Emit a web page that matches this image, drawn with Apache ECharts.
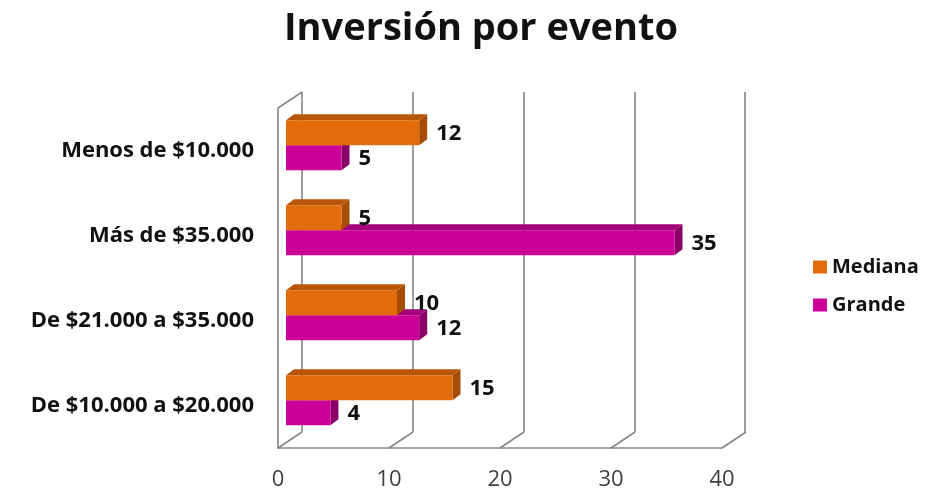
<!DOCTYPE html>
<html><head><meta charset="utf-8">
<script src="https://cdn.jsdelivr.net/npm/echarts@6/dist/echarts.min.js"></script>
<style>html,body{margin:0;padding:0;background:#fff}#c{width:932px;height:493px}</style>
</head><body><div id="c"></div>
<script>
const categories = ['De $10.000 a $20.000', 'De $21.000 a $35.000', 'Más de $35.000', 'Menos de $10.000'];
const mediana = [15, 10, 5, 12];
const grande = [4, 12, 35, 5];
const xTicks = [0, 10, 20, 30, 40];
const seriesNames = ['Mediana', 'Grande'];

const FONT = 'Open Sans';
const DX = 24, DY = 16;          // full depth of the 3D box
const BD = 8, BDY = 6;           // bar depth
const BAR_H = 25;
const GRID_COLOR = '#868686';
const colors = {
  Mediana: { front: '#E36C0A', top: '#B8560A', side: '#A64C07' },
  Grande: { front: '#CC0099', top: '#A3007A', side: '#8A0067' }
};

function barRender(name, upper) {
  return function (params, api) {
    const v = api.value(0), ci = api.value(1);
    const p0 = api.coord([0, ci]);
    const p1 = api.coord([v, ci]);
    const cy = p0[1];
    const y0 = upper ? cy - BAR_H : cy;
    const y1 = upper ? cy : cy + BAR_H;
    const x0 = p0[0], x1 = p1[0];
    const c = colors[name];
    return {
      type: 'group',
      children: [
        { type: 'polygon', shape: { points: [[x0, y0], [x0 + BD, y0 - BDY], [x1 + BD, y0 - BDY], [x1, y0]] }, style: { fill: c.top } },
        { type: 'polygon', shape: { points: [[x1, y0], [x1 + BD, y0 - BDY], [x1 + BD, y1 - BDY], [x1, y1]] }, style: { fill: c.side } },
        { type: 'rect', shape: { x: x0, y: y0, width: x1 - x0, height: y1 - y0 }, style: { fill: api.visual('color') } },
        { type: 'text', style: { text: String(v), x: x1 + BD + 9, y: (y0 + y1) / 2 + 1, verticalAlign: 'middle', align: 'left', font: 'bold 22px "' + FONT + '"', fill: '#111' } }
      ]
    };
  };
}

function floorRender(params, api) {
  const v = api.value(0);
  const cs = params.coordSys;
  const x = api.coord([v, 0])[0];
  const by = cs.y + cs.height;
  const children = [
    { type: 'line', shape: { x1: x, y1: by, x2: x + DX, y2: by - DY }, style: { stroke: GRID_COLOR, lineWidth: 1.6 } }
  ];
  if (v === 0) {
    children.push({ type: 'line', shape: { x1: cs.x, y1: cs.y, x2: cs.x + DX, y2: cs.y - DY }, style: { stroke: GRID_COLOR, lineWidth: 1.6 } });
  }
  return { type: 'group', children };
}

const chart = echarts.init(document.getElementById('c'));
chart.setOption({
  animation: false,
  textStyle: { fontFamily: FONT },
  title: {
    text: 'Inversión por evento', left: 476, top: 5, textAlign: 'center',
    textStyle: { fontFamily: FONT, fontSize: 38, fontWeight: 'bold', color: '#111' }
  },
  legend: {
    orient: 'vertical', left: 808, top: 252, icon: 'rect', itemWidth: 14, itemHeight: 13, itemGap: 18,
    data: seriesNames,
    textStyle: { fontFamily: FONT, fontSize: 20, fontWeight: 'bold', color: '#111' }
  },
  grid: [
    { left: 302, top: 92, width: 443, height: 340 },   // back wall
    { left: 278, top: 108, width: 444, height: 340 },  // front plane
    { left: 286, top: 102.7, width: 444, height: 340 } // bar plane
  ],
  xAxis: [
    { gridIndex: 0, type: 'value', min: 0, max: 40, interval: 10, axisLabel: { show: false }, axisLine: { show: false }, axisTick: { show: false },
      splitLine: { show: true, lineStyle: { color: GRID_COLOR, width: 1.6 } } },
    { gridIndex: 1, type: 'value', min: 0, max: 40, interval: 10, axisTick: { show: false }, splitLine: { show: false },
      axisLine: { show: true, lineStyle: { color: GRID_COLOR, width: 1.6 } },
      axisLabel: { show: true, margin: 21, fontSize: 22, color: '#404040', fontFamily: FONT } },
    { gridIndex: 2, type: 'value', min: 0, max: 40, interval: 10, show: false }
  ],
  yAxis: [
    { gridIndex: 0, type: 'category', data: categories, show: false },
    { gridIndex: 1, type: 'category', data: categories, axisTick: { show: false },
      axisLine: { show: true, lineStyle: { color: GRID_COLOR, width: 1.6 } },
      axisLabel: { margin: 24, fontSize: 22, fontWeight: 'bold', color: '#111', fontFamily: FONT } },
    { gridIndex: 2, type: 'category', data: categories, show: false }
  ],
  series: [
    { name: 'floor', type: 'custom', xAxisIndex: 1, yAxisIndex: 1, data: xTicks.map(v => [v, 0]), renderItem: floorRender, silent: true, z: 1 },
    { name: 'Mediana', type: 'custom', xAxisIndex: 2, yAxisIndex: 2, itemStyle: { color: colors.Mediana.front }, z: 4,
      encode: { x: 0, y: 1 }, data: mediana.map((v, i) => [v, i]), renderItem: barRender('Mediana', true) },
    { name: 'Grande', type: 'custom', xAxisIndex: 2, yAxisIndex: 2, itemStyle: { color: colors.Grande.front }, z: 3,
      encode: { x: 0, y: 1 }, data: grande.map((v, i) => [v, i]), renderItem: barRender('Grande', false) }
  ]
});
</script></body></html>
